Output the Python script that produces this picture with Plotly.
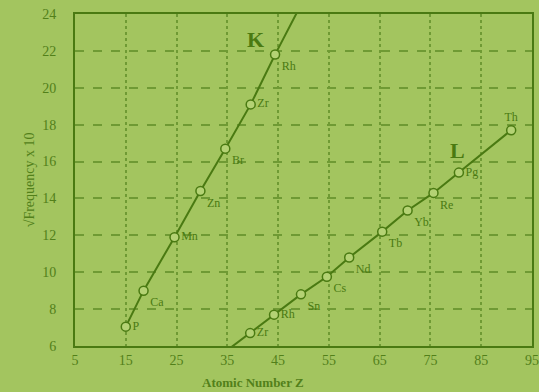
import plotly.graph_objects as go

# K series (atomic number, sqrt(frequency) x 10)
k_elements = ['P', 'Ca', 'Mn', 'Zn', 'Br', 'Zr', 'Rh']
k_z = [15, 18.5, 24.6, 29.7, 34.6, 39.6, 44.4]
k_sqrtf = [7.05, 9.0, 11.9, 14.4, 16.7, 19.1, 21.8]
k_line_end = (49.5, 24.5)

# L series
l_elements = ['Zr', 'Rh', 'Sn', 'Cs', 'Nd', 'Tb', 'Yb', 'Re', 'Pg', 'Th']
l_z = [39.5, 44.2, 49.5, 54.6, 59.0, 65.5, 70.5, 75.6, 80.6, 90.9]
l_sqrtf = [6.7, 7.7, 8.8, 9.75, 10.8, 12.2, 13.35, 14.3, 15.4, 17.7]
l_line_start = (35.6, 5.9)

k_textpos = ['middle right', 'bottom right', 'middle right', 'bottom right',
             'bottom right', 'middle right', 'bottom right']
l_textpos = ['middle right', 'middle right'] + ['bottom right'] * 6 + \
            ['middle right', 'top center']

bg = '#a3c55f'
ink = '#4a7a12'
grid = '#6f9a34'
txt = '#52801a'
serif = 'Liberation Serif, Times New Roman, serif'

fig = go.Figure()

# K line
fig.add_scatter(x=k_z + [k_line_end[0]], y=k_sqrtf + [k_line_end[1]],
                mode='lines', line=dict(color=ink, width=2), hoverinfo='skip')
fig.add_scatter(x=k_z, y=k_sqrtf, mode='markers+text', text=k_elements,
                textposition=k_textpos,
                textfont=dict(family=serif, size=12, color=ink),
                marker=dict(symbol='circle', size=9, color='#b4d274',
                            line=dict(color=ink, width=1.5)))

# L line
fig.add_scatter(x=[l_line_start[0]] + l_z, y=[l_line_start[1]] + l_sqrtf,
                mode='lines', line=dict(color=ink, width=2), hoverinfo='skip')
fig.add_scatter(x=l_z, y=l_sqrtf, mode='markers+text', text=l_elements,
                textposition=l_textpos,
                textfont=dict(family=serif, size=12, color=ink),
                marker=dict(symbol='circle', size=9, color='#b4d274',
                            line=dict(color=ink, width=1.5)))

# series labels
fig.add_annotation(x=40.5, y=22.6, text='<b>K</b>', showarrow=False,
                   font=dict(family=serif, size=22, color=ink))
fig.add_annotation(x=80.3, y=16.6, text='<b>L</b>', showarrow=False,
                   font=dict(family=serif, size=22, color=ink))

# axis titles
fig.add_annotation(xref='paper', yref='paper', x=-0.1, y=0.5,
                   xanchor='center', yanchor='middle',
                   text='\u221aFrequency x 10', textangle=-90, showarrow=False,
                   font=dict(family=serif, size=14, color=txt))
fig.add_annotation(xref='paper', yref='paper', x=0.39, y=-0.14,
                   yanchor='bottom',
                   text='<b>Atomic Number Z</b>', showarrow=False,
                   font=dict(family=serif, size=13, color=txt))

fig.update_xaxes(range=[5, 95], tick0=5, dtick=10, showgrid=True,
                 gridcolor=grid, griddash='dot', gridwidth=1.5,
                 showline=True, linecolor=ink, linewidth=2, mirror=True,
                 zeroline=False, ticks='', automargin=False,
                 tickfont=dict(family=serif, size=14, color=txt))
fig.update_yaxes(range=[6, 24], tick0=6, dtick=2, showgrid=True,
                 gridcolor=grid, griddash='dash', gridwidth=1.5,
                 showline=True, linecolor=ink, linewidth=2, mirror=True,
                 zeroline=False, ticks='', ticklabelstandoff=14,
                 automargin=False,
                 tickfont=dict(family=serif, size=14, color=txt))

fig.update_layout(width=539, height=392, showlegend=False,
                  margin=dict(l=75, r=7, t=14, b=46),
                  paper_bgcolor=bg, plot_bgcolor=bg)

fig.write_html('out.html', config={'displayModeBar': False},
               post_script="document.body.style.margin='0';"
                           "document.body.style.background='" + bg + "';")
